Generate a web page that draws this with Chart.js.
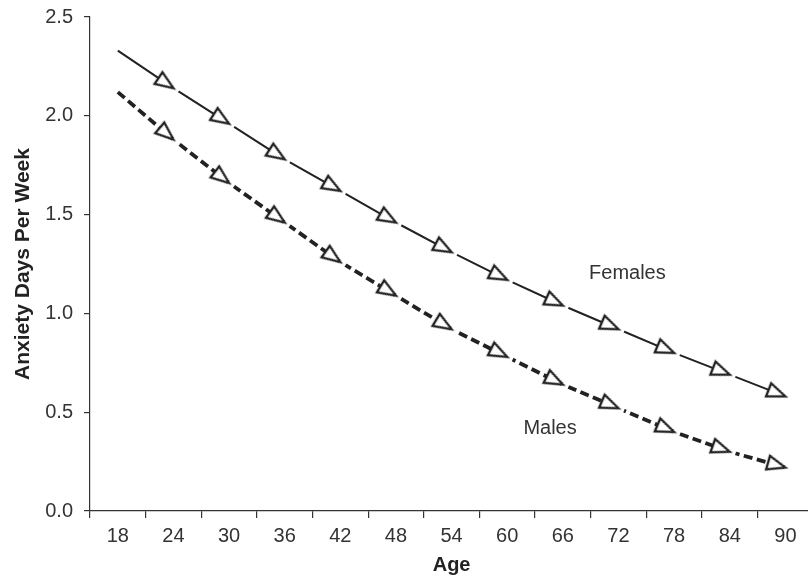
<!DOCTYPE html>
<html>
<head>
<meta charset="utf-8">
<script src="https://cdn.jsdelivr.net/npm/chart.js@4.4.1/dist/chart.umd.min.js"></script>
<style>
  html,body{margin:0;padding:0;background:#fff;}
  #wrap{width:808px;height:581px;overflow:hidden;}
</style>
</head>
<body>
<div id="wrap"><canvas id="chart" width="826" height="581"></canvas></div>
<script>
// Data
const ages = ['18','24','30','36','42','48','54','60','66','72','78','84','90'];
const females = [2.33, 2.14, 1.96, 1.78, 1.62, 1.46, 1.31, 1.17, 1.04, 0.92, 0.80, 0.69, 0.58];
const males   = [2.12, 1.88, 1.66, 1.46, 1.26, 1.09, 0.92, 0.78, 0.64, 0.52, 0.40, 0.30, 0.22];
const yTicks  = [0, 0.5, 1.0, 1.5, 2.0, 2.5];

// in-plot labels: text, position in (category index, value)
const noteText = ['Females', 'Males'];
const noteX = [9.16, 7.77];
const noteY = [1.20, 0.42];

const FONT = '"Liberation Sans", Arial, Helvetica, sans-serif';
const INK = '#222';

// open arrowhead, tip at the canvas centre so the point sits at the tip
function arrowHead(gap){
  const c = document.createElement('canvas');
  c.width = 48; c.height = 28;
  const g = c.getContext('2d');
  g.translate(24,14);
  g.fillStyle = '#fff';
  g.fillRect(-1,-gap,7,gap*2); // small break in the line after the tip
  g.beginPath();
  g.moveTo(0,0); g.lineTo(-18,-7); g.lineTo(-18,7); g.closePath();
  g.fill();
  g.lineWidth = 2.4; g.strokeStyle = INK; g.lineJoin = 'miter';
  g.stroke();
  return c;
}
const headF = arrowHead(2.6);
const headM = arrowHead(3.6);

// point the head along the incoming segment
function headAngle(ctx){
  const i = ctx.dataIndex;
  if (!i) return 0;
  const d = ctx.dataset.data;
  const {x, y} = ctx.chart.scales;
  const dx = x.getPixelForValue(i) - x.getPixelForValue(i-1);
  const dy = y.getPixelForValue(d[i]) - y.getPixelForValue(d[i-1]);
  return Math.atan2(dy, dx) * 180 / Math.PI;
}

const notes = {
  id:'notes',
  afterDatasetsDraw(chart){
    const {ctx, scales:{x, y}} = chart;
    ctx.save();
    ctx.font = '20px ' + FONT;
    ctx.fillStyle = '#333';
    ctx.textAlign = 'center';
    ctx.textBaseline = 'middle';
    noteText.forEach((t,k)=>{
      ctx.fillText(t, x.getPixelForValue(noteX[k]), y.getPixelForValue(noteY[k]));
    });
    ctx.restore();
  }
};

new Chart(document.getElementById('chart'),{
  type:'line',
  data:{
    labels: ages,
    datasets:[
      {label:'Females', data:females, borderColor:INK, borderWidth:2, tension:0,
       pointStyle:headF, pointRotation:headAngle,
       pointRadius:c=>c.dataIndex===0?0:9, pointHitRadius:0},
      {label:'Males', data:males, borderColor:INK, borderWidth:3.8, borderDash:[9,4.5], tension:0,
       pointStyle:headM, pointRotation:headAngle,
       pointRadius:c=>c.dataIndex===0?0:9, pointHitRadius:0}
    ]
  },
  plugins:[notes],
  options:{
    responsive:false,
    animation:false,
    events:[],
    layout:{padding:{top:17, right:2, bottom:0, left:0}},
    plugins:{legend:{display:false}, tooltip:{enabled:false}},
    scales:{
      x:{
        offset:true,
        grid:{offset:true, drawOnChartArea:false, drawTicks:true, tickLength:7, color:'#333', lineWidth:1.2},
        border:{display:true, color:'#333', width:1.2},
        ticks:{color:'#333', font:{family:FONT, size:20}, padding:6, maxRotation:0, autoSkip:false},
        title:{display:true, text:'Age', color:INK, font:{family:FONT, size:20, weight:'bold'}, padding:{top:0, bottom:4}},
        afterFit(s){ s.height = 70; }
      },
      y:{
        min:0, max:2.5,
        afterBuildTicks(s){ s.ticks = yTicks.map(v=>({value:v})); },
        grid:{drawOnChartArea:false, drawTicks:true, tickLength:6, color:'#333', lineWidth:1.2},
        border:{display:true, color:'#333', width:1.2},
        ticks:{color:'#333', font:{family:FONT, size:20}, padding:11, callback:v=>Number(v).toFixed(1)},
        title:{display:true, text:'Anxiety Days Per Week', color:INK, font:{family:FONT, size:21, weight:'bold'}, padding:{top:11, bottom:0}},
        afterFit(s){ s.width = 90; s.paddingTop = 0; s.paddingBottom = 0; }
      }
    }
  }
});
</script>
</body>
</html>
